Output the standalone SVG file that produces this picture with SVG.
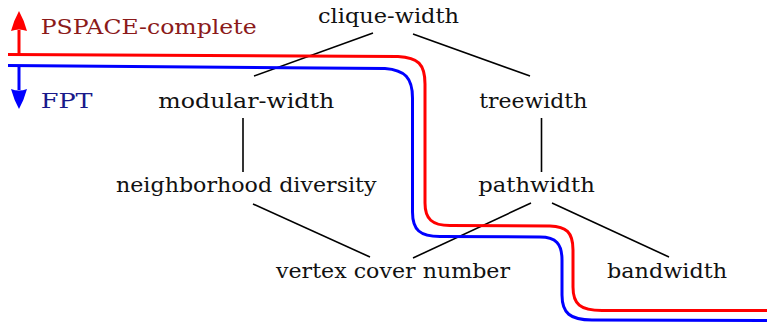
<svg xmlns="http://www.w3.org/2000/svg" width="767" height="327" viewBox="0 0 767 327">
<style>
.edge{stroke:#000;stroke-width:1.6;fill:none}
.red{stroke:#ff0000;stroke-width:3;fill:none}
.blue{stroke:#0000ff;stroke-width:3;fill:none}
.lbl{font-family:"DejaVu Serif","Liberation Serif",serif;font-size:21px;fill:#111}
</style>
<defs>
<marker id="ahRed" viewBox="0 0 20 16" refX="1" refY="8" markerWidth="20" markerHeight="16" markerUnits="userSpaceOnUse" orient="auto">
<path d="M0,0 Q11,3 20,8 Q11,13 0,16 Q3,8 0,0 Z" fill="#ff0000"/>
</marker>
<marker id="ahBlue" viewBox="0 0 20 16" refX="1" refY="8" markerWidth="20" markerHeight="16" markerUnits="userSpaceOnUse" orient="auto">
<path d="M0,0 Q11,3 20,8 Q11,13 0,16 Q3,8 0,0 Z" fill="#0000ff"/>
</marker>
</defs>
<g id="connectors">
<line class="edge" x1="373" y1="33" x2="254" y2="76"/>
<line class="edge" x1="413" y1="34" x2="530" y2="76"/>
<line class="edge" x1="243" y1="118" x2="243" y2="172"/>
<line class="edge" x1="541.5" y1="118" x2="541.5" y2="172"/>
<line class="edge" x1="253" y1="204" x2="370" y2="257"/>
<line class="edge" x1="531" y1="203" x2="413" y2="258"/>
<line class="edge" x1="552" y1="203" x2="669" y2="257"/>
</g>
<g id="boundary-pspace">
<path class="red" d="M8,54.5 L398,56.5 C418,57.5 425,64 425,84 L425,203 C425,219 432,225.5 450,225.5 L550,226 C566,226.5 573,232 573,250 L573,287 C573,304 580,310.5 602,310.5 L767,310.5"/>
<line class="red" x1="19" y1="54.5" x2="19" y2="30" marker-end="url(#ahRed)"/>
</g>
<g id="boundary-fpt">
<path class="blue" d="M8,65.5 L385,68.5 C405,70 412.5,78 412.5,98 L412.5,212 C412.5,230 420,236.5 440,236.5 L540,237 C556,237 562,244 562,260 L562,295 C562,313 570,320 592,320 L767,320.5"/>
<line class="blue" x1="19" y1="65.5" x2="19" y2="90" marker-end="url(#ahBlue)"/>
</g>
<g id="label-pspace"><text class="lbl" x="40.7" y="33.5" textLength="216" lengthAdjust="spacingAndGlyphs" style="fill:#8b1a1a">PSPACE-complete</text></g>
<g id="label-fpt"><text class="lbl" x="40.7" y="108" textLength="52" lengthAdjust="spacingAndGlyphs" style="fill:#1a1a8b">FPT</text></g>
<g id="clique-width"><text class="lbl" x="318" y="23" textLength="141" lengthAdjust="spacingAndGlyphs">clique-width</text></g>
<g id="modular-width"><text class="lbl" x="158.3" y="107.5" textLength="176" lengthAdjust="spacingAndGlyphs">modular-width</text></g>
<g id="treewidth"><text class="lbl" x="479.3" y="107.5" textLength="108" lengthAdjust="spacingAndGlyphs">treewidth</text></g>
<g id="neighborhood-diversity"><text class="lbl" x="116" y="192" textLength="260.5" lengthAdjust="spacingAndGlyphs">neighborhood diversity</text></g>
<g id="pathwidth"><text class="lbl" x="478.3" y="192" textLength="116.5" lengthAdjust="spacingAndGlyphs">pathwidth</text></g>
<g id="vertex-cover-number"><text class="lbl" x="276" y="277.5" textLength="234" lengthAdjust="spacingAndGlyphs">vertex cover number</text></g>
<g id="bandwidth"><text class="lbl" x="607" y="278" textLength="120" lengthAdjust="spacingAndGlyphs">bandwidth</text></g>
</svg>
